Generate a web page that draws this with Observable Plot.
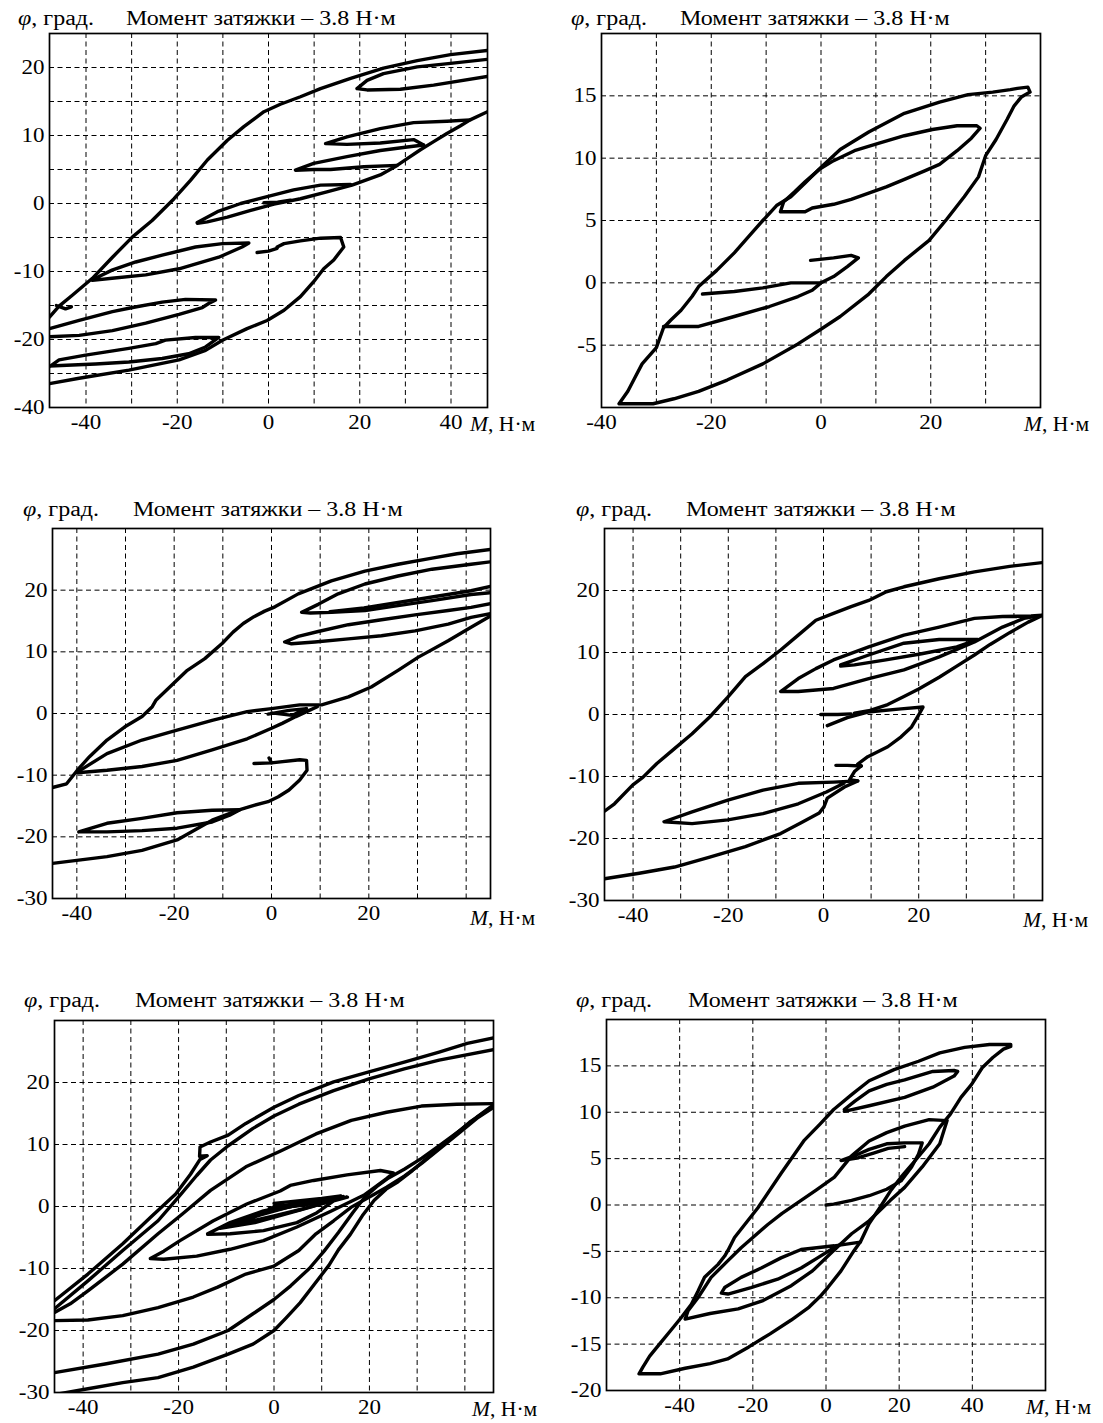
<!DOCTYPE html>
<html><head><meta charset="utf-8">
<script src="https://cdn.jsdelivr.net/npm/d3@7"></script>
<script src="https://cdn.jsdelivr.net/npm/@observablehq/plot@0.6"></script>
<style>
body{margin:0;background:#fff;}
#root{position:relative;width:1103px;height:1423px;background:#fff;font-family:"Liberation Serif","Times New Roman",serif;color:#000;overflow:hidden;}
.lbl{position:absolute;white-space:nowrap;transform-origin:0 0;line-height:1;}
.plot{position:absolute;}
</style></head><body><div id="root"></div><script>
// ---------- Panel 1 ----------
const p1Outer=[[-48,-16.7],[-45.9,-15.1],[-43,-13.5],[-38.6,-11.0],[-34.2,-7.9],[-29.8,-4.9],[-25.5,-2.5],[-20.7,0.7],[-17.1,3.4],[-13.4,6.4],[-9.0,9.3],[-5.4,11.3],[-1.0,13.5],[2.6,14.6],[7.0,15.7],[11.4,16.9],[18.0,18.4],[25.2,19.9],[32.6,21.0],[39.9,21.9],[48,22.5]];
const p1TopLoop=[[48,21.2],[39.9,20.6],[32.6,20.1],[25.2,19.1],[21.6,18.1],[19.4,16.9],[21.6,16.7],[28.9,16.8],[36.2,17.4],[48,18.7]];
const p1Rise=[[-15.6,-2.9],[-13.4,-2.7],[-9.0,-2.0],[-3.9,-1.0],[1.2,-0.1],[7.0,0.7],[12.8,1.7],[18.3,2.7],[24.5,4.2],[28.2,5.6],[30.4,6.6],[33.3,7.9],[36.2,9.1],[39.1,10.3],[42.0,11.4],[44.2,12.3],[48,13.5]];
const p1LoopUpper=[[44.2,12.3],[39.1,12.1],[31.8,11.9],[24.5,11.0],[17.2,9.8],[12.5,8.8],[17.2,8.7],[24.5,8.9],[31.8,9.4],[34.0,8.6]];
const p1LoopMid=[[34.0,8.6],[30.4,8.3],[24.5,7.8],[17.2,6.9],[9.9,5.9],[5.9,4.9],[9.9,5.0],[13.6,5.0],[20.9,5.4],[28.2,5.6]];
const p1ZeroUpper=[[-15.6,-2.8],[-11.2,-1.2],[-6.1,0],[-0.3,1.0],[5.5,2.0],[11.4,2.7],[18.0,2.8]];
const p1ZeroStub=[[-1.0,0.1],[2.0,0.2],[4.8,0.5]];
const p1LoopM7=[[-38.6,-11.2],[-34.3,-9.8],[-29.1,-8.6],[-23.3,-7.6],[-16.0,-6.4],[-10.1,-5.9],[-4.3,-5.8],[-5.8,-6.4],[-10.9,-7.9],[-19.6,-9.6],[-26.9,-10.5],[-34.3,-11.0],[-38.6,-11.3]];
const p1Loop15=[[-48,-18.4],[-41.5,-17.2],[-34.2,-15.9],[-29.8,-15.3],[-23.3,-14.5],[-18.2,-14.1],[-11.6,-14.2],[-13.1,-14.7],[-14.5,-15.3],[-19.6,-16.3],[-26.9,-17.6],[-34.2,-18.7],[-41.5,-19.4],[-48,-19.6]];
const p1Loop22=[[-48,-24.0],[-45.9,-23.0],[-40.1,-22.3],[-30.6,-21.3],[-24.7,-20.6],[-22.6,-20.1],[-16.0,-19.7],[-10.9,-19.7],[-13.8,-21.1],[-17.5,-22.1],[-23.3,-22.8],[-30.6,-23.3],[-37.9,-23.6],[-48,-23.9]];
const p1Bottom=[[-48,-26.5],[-41.5,-25.7],[-30.6,-24.5],[-19.6,-23.0],[-13.8,-21.6],[-10.1,-20.1],[-4.7,-18.4],[-0.3,-17.2],[3.4,-15.7],[7.0,-13.7],[9.9,-11.5],[12.1,-9.6],[14.3,-8.3],[16.5,-6.4],[15.8,-5.0],[11.4,-5.1],[7.0,-5.5],[3.4,-5.9],[1.9,-6.4]];
const p1Stub7=[[-2.5,-7.2],[0,-7.0],[1.9,-6.6]];
const p1Jag15=[[-46.5,-15.0],[-44.5,-15.5],[-43.2,-15.2]];
// ---------- Panel 2 ----------
const p2Outer=[[-36.8,-9.7],[-30.6,-9.7],[-26.8,-9.3],[-22.3,-8.7],[-17.1,-7.8],[-10.6,-6.5],[-4.2,-4.9],[-0.3,-3.8],[3.5,-2.7],[8.7,-0.9],[11.9,0.5],[15.2,1.8],[19.7,3.4],[22.9,5.1],[26.1,6.9],[28.7,8.5],[30.0,10.2],[31.9,11.5],[33.9,13.1],[35.2,14.2],[36.5,14.9],[38.1,15.3],[37.7,15.7],[35.8,15.6],[34.5,15.5],[31.3,15.3],[26.8,15.1],[21.6,14.5],[15.2,13.6],[8.7,12.1],[3.5,10.7],[0.3,9.4],[-2.9,8.0],[-5.5,6.9],[-8.1,6.2],[-10.6,5.0],[-13.2,3.7],[-15.8,2.4],[-19.0,1.0],[-22.3,-0.3],[-23.5,-1.1],[-25.5,-2.2],[-27.4,-3.0],[-28.7,-3.6],[-30.0,-5.2],[-32.6,-6.5],[-33.9,-7.6],[-35.2,-8.7],[-36.8,-9.7]];
const p2InnerUpper=[[-7.4,5.7],[-2.9,5.7],[-1.6,6.0],[2.3,6.3],[5.5,6.7],[8.7,7.2],[11.9,7.7],[15.2,8.3],[19.0,9.0],[21.6,9.5],[24.8,10.6],[27.4,11.6],[29.0,12.4],[28.4,12.6],[24.8,12.6],[20.3,12.3],[15.2,11.8],[10.6,11.2],[6.1,10.6],[2.3,9.8],[-0.3,9.1],[-2.9,8.1],[-4.8,7.3],[-6.8,6.5],[-7.4,5.7]];
const p2InnerLower=[[-28.7,-3.5],[-22.3,-3.5],[-15.8,-2.7],[-9.4,-1.9],[-4.2,-1.1],[-1.6,-0.6],[0,0],[2.3,0.5],[4.8,1.3],[6.8,2.0],[5.5,2.2],[2.3,2.0],[-1.9,1.8]];
const p2InnerLower2=[[-21.6,-0.9],[-15.8,-0.7],[-10.6,-0.4],[-5.5,0],[0,0]];
// ---------- Panel 3 ----------
const p3Main=[[-45,-12.0],[-42.1,-11.4],[-41.0,-10.3],[-39.9,-9.2],[-37.4,-7.0],[-33.8,-4.3],[-30.2,-2.2],[-26.6,-0.5],[-24.5,1.1],[-23.7,2.2],[-20.9,4.3],[-17.3,7.0],[-13.7,8.9],[-10.1,11.4],[-7.9,13.2],[-5.8,14.6],[-3.6,15.7],[-1.4,16.6],[0.7,17.3],[5.5,19.4],[12.3,21.5],[19.2,23.1],[26,24.2],[33,25.2],[38.1,25.9],[45,26.6]];
const p3Tip=[[45,24.6],[41,24.2],[33,23.4],[26,22.3],[19.2,21.0],[13.7,19.4],[9.6,17.7],[6.2,16.4],[8,16.3],[12.3,16.4],[19.2,16.7],[26,17.5],[33,18.3],[41,19.3],[45,19.6]];
const p3TipB=[[45,20.6],[41,19.9],[33,18.9],[26,18.0],[19,17.1],[12,16.5]];
const p3Lower=[[45,17.8],[41,17.2],[36.3,16.7],[29.5,16.0],[22.6,15.2],[15.8,14.4],[9.6,13.3],[5.5,12.5],[2.7,11.6],[4.1,11.3],[8.9,11.6],[15.8,12.1],[22.6,12.6],[29.5,13.4],[36.3,14.5],[41,15.6],[45,16.2]];
const p3Return=[[45,15.8],[41,14.0],[36.3,11.8],[30.1,9.1],[26,7.0],[20.5,4.3],[15.8,2.7],[10.3,1.4],[5.8,1.4],[0,0.8],[-5,0.3],[-12.2,-1.1],[-19.4,-2.7],[-26.6,-4.3],[-33.8,-6.5],[-39.9,-9.5]];
const p3CenterLower=[[-39.9,-9.6],[-33.8,-9.2],[-26.6,-8.6],[-19.4,-7.6],[-12.2,-5.9],[-5,-4.1],[0,-2.4],[2.2,-1.6],[5,-0.5],[7.2,0.3],[9.4,1.1]];
const p3Squiggle=[[-0.7,-0.1],[3.6,0.5],[7.2,0.8],[4.3,-0.3],[0,0.1]];
const p3Hook=[[-3.6,-8.1],[0,-8.0],[5.8,-7.5],[7.2,-7.6],[7.3,-9.2],[5.8,-10.8],[3.6,-12.4],[1.4,-13.5],[-0.7,-14.3],[-3.6,-14.9],[-6.5,-15.6],[-12.2,-17.3],[-19.4,-20.5],[-26.6,-22.2],[-33.8,-23.2],[-45,-24.3]];
const p3Tick=[[-0.5,-7.2],[0,-8.0]];
const p3Loop17=[[-39.6,-19.2],[-33.8,-17.8],[-26.6,-17.0],[-19.4,-16.1],[-12.2,-15.7],[-6.5,-15.6],[-8.6,-16.5],[-12.2,-17.6],[-19.4,-18.6],[-26.6,-19.0],[-33.8,-19.2],[-39.6,-19.2]];
// ---------- Panel 4 ----------
const p4Main=[[-46,-15.6],[-43.9,-14.4],[-40.1,-11.4],[-37.9,-10.1],[-35,-7.9],[-31.3,-5.5],[-27.6,-3.1],[-23.9,-0.4],[-20.1,2.8],[-16.4,6.1],[-12.7,8.2],[-9.0,10.4],[-5.3,12.8],[-1.6,15.2],[2.1,16.3],[5.8,17.4],[9.5,18.4],[13.2,19.8],[16.9,20.6],[24.3,21.9],[31.7,23.0],[39.1,23.9],[46,24.5]];
const p4UpperLoop=[[46,16.0],[43.6,15.9],[37.6,15.8],[31.7,15.5],[24.3,14.1],[16.9,12.8],[9.5,10.9],[2.1,8.8],[-1.6,7.4],[-5.3,5.8],[-9,3.7],[-5.3,3.7],[2.1,4.2],[9.5,5.8],[16.9,7.2],[24.3,9.3],[31.7,11.7],[37.6,14.1],[42.1,15.5],[46,16.0]];
const p4Return=[[46,16.0],[43,14.9],[39.1,13.2],[35,11.3],[31.7,9.6],[28,7.8],[24.3,6.0],[20,4.1],[16.9,2.9],[13.5,1.6],[9.5,0.6],[6.5,0.2]];
const p4Inner=[[3.6,8.0],[9.5,9.6],[16.9,11.5],[24.3,12.1],[32.4,12.1],[28,10.9],[20.6,9.8],[13.1,8.8],[6.5,8.0],[3.6,7.8]];
const p4ZeroStub=[[-0.6,0],[3,0],[5.8,0.1]];
const p4Hook=[[0.8,-1.8],[5,-0.5],[9.3,0.4],[16.3,0.9],[20.9,1.2],[19.9,-0.2],[18.5,-2.0],[16.3,-3.6],[13.5,-5.2],[9.3,-6.8],[7.2,-8.0],[7.9,-8.3]];
const p4HookStub=[[2.6,-8.2],[5,-8.2],[7.9,-8.3]];
const p4Hook2=[[7.9,-8.3],[6.5,-9.2],[5.8,-10.1],[5.5,-10.5],[7.2,-10.7],[4.4,-11.7],[0.8,-13.5],[0.1,-14.9],[-0.9,-15.9],[-4.8,-17.5],[-9.0,-19.2],[-16.4,-21.3],[-23.9,-23.0],[-31.3,-24.6],[-38.7,-25.6],[-46,-26.5]];
const p4Lower=[[7.2,-10.7],[2.1,-10.9],[-5.3,-11.1],[-12.7,-12.2],[-20.1,-13.8],[-27.6,-15.7],[-33.5,-17.3],[-27.6,-17.6],[-20.1,-17.0],[-12.7,-16.0],[-5.3,-14.4],[0.6,-12.5],[4.3,-11.1]];
// ---------- Panel 5 ----------
const p5L1=[[-46,-15.2],[-39,-10.9],[-31.7,-6.0],[-25.8,-1.7],[-20.6,2.0],[-17.5,5.2],[-15.5,7.6],[-14.0,8.2],[-15.6,8.1],[-15.5,9.6],[-13.3,10.4],[-9.6,11.5],[-5.9,13.4],[0,16.0],[5.2,17.9],[12.5,20.1],[19.9,21.7],[27.3,23.3],[34.6,24.9],[40.5,26.3],[46,27.2]];
const p5L2=[[-46,-16.5],[-39,-12.0],[-31.7,-7.1],[-24.3,-2.3],[-20.6,1.0],[-16.2,5.0],[-13.3,7.5],[-9.6,9.8],[-4.4,12.6],[0,14.6],[5.2,16.5],[12.5,18.7],[19.9,20.6],[27.3,22.2],[34.6,23.6],[46,25.3]];
const p5L3=[[-46,-18.4],[-39,-18.3],[-31.7,-17.6],[-24.3,-16.3],[-16.9,-14.6],[-11.8,-13.0],[-5.9,-10.9],[0,-9.6],[5.2,-7.1],[8.8,-4.4],[12.5,-2.3],[16.2,-0.1],[19.9,1.5],[23.6,3.1],[27.3,4.9],[31,7.0],[35,9.5],[39,12.0],[42.5,14.2],[46,16.0]];
const p5L4=[[46,16.6],[38.3,16.5],[30.9,16.2],[23.6,15.2],[16.2,13.9],[8.8,11.7],[1.5,9.0],[-5.9,6.4],[-13.3,2.6],[-19.2,-1.2],[-24.3,-4.4],[-31.7,-9.3],[-39,-13.6],[-42.7,-15.7],[-46,-17.1]];
const p5L5=[[-46,-26.8],[-35.4,-25.4],[-24.3,-23.8],[-16.9,-22.2],[-9.6,-20.0],[-4.4,-17.3],[0,-15.0],[3.5,-12.8],[7.4,-10.0],[10.5,-7.2],[13.5,-4.2],[16.5,-1.0],[19.0,1.5],[21.5,3.2],[24,4.6],[27.3,6.0],[31,7.8],[35,10.0],[39,12.3],[42.5,14.4],[46,16.4]];
const p5L6=[[-45.7,-30.3],[-39,-29.4],[-31.7,-28.4],[-24.3,-27.6],[-16.9,-25.9],[-9.6,-23.8],[-4.4,-22.2],[0,-20.0],[2.5,-18.0],[5.5,-15.5],[8.5,-12.5],[11.5,-9.5],[13.5,-7.0],[16,-4.5],[18.5,-1.5],[21,1.0],[23.5,2.8],[26,4.0],[29,5.8],[33,8.4],[37,11.0],[41,13.6],[46,16.2]];
const p5LoopA=[[-25.9,-8.4],[-23.1,-7.2],[-19.7,-5.5],[-12.7,-2.3],[-5.7,0.4],[1.3,2.5],[3.4,3.4],[8.3,4.2],[15.3,5.1],[22.3,5.8],[25,5.4],[23.6,4.5],[18.8,1.8],[11.8,-0.8],[4.8,-3.3],[-2.2,-5.5],[-9.2,-6.9],[-16.2,-8.0],[-23.1,-8.5],[-25.9,-8.4]];
const p5LoopB=[[-13.9,-4.4],[-9.2,-2.6],[-2.2,-0.7],[4.8,0.4],[11.8,1.2],[15.4,1.5],[12.5,0.9],[9,-1.0],[4.8,-2.6],[-2.2,-3.9],[-9.2,-4.4],[-13.9,-4.5]];
const p5LoopC=[[-11.3,-3.5],[-6,-2.0],[0,-0.6],[6,0.4],[13.6,1.3],[8,0.0],[2,-1.3],[-4,-2.6],[-11.3,-3.5]];
const p5LoopD=[[-9,-2.9],[-3,-1.4],[3,-0.1],[9,0.8],[12.5,1.0],[6,-0.4],[0,-1.5],[-6,-2.6],[-9,-2.9]];
const p5LoopE=[[-1,-0.3],[4,0.4],[9,0.9],[14.5,1.6],[10,0.7],[5,0.1],[0,-0.2]];
const p5LoopF=[[0,0.5],[5,0.9],[10,1.3],[14,1.7],[9,0.6],[4,0.2],[0,0.0]];
// ---------- Panel 6 ----------
const p6Outer=[[-51.1,-18.2],[-45.3,-18.2],[-38.5,-17.6],[-31.7,-17.1],[-26.9,-16.6],[-21.1,-15.3],[-15.3,-13.9],[-9.5,-12.4],[-4.6,-11.0],[-1.7,-9.9],[0.5,-8.9],[4.1,-7.1],[7.7,-4.9],[9.5,-3.9],[11.8,-2.0],[14.7,-0.3],[17.6,1.5],[20.5,3.0],[24.4,4.8],[28.2,6.6],[31.1,8.4],[34.0,9.8],[36.9,11.6],[39.8,13.0],[42.7,14.8],[45.6,15.9],[48.5,16.8],[50.5,17.1],[50.5,17.3],[44.7,17.3],[37.9,17.0],[31.1,16.4],[25.3,15.5],[18.6,14.6],[11.8,13.4],[7.0,11.9],[2.1,10.3],[-1.7,8.7],[-5.9,7.0],[-12.3,3.4],[-18.6,-0.3],[-25,-3.5],[-26.8,-4.9],[-27.7,-5.5],[-29.5,-6.4],[-33.2,-7.8],[-35,-9.3],[-36.8,-10.7],[-39.5,-12.1],[-42.4,-13.5],[-45.3,-14.9],[-48.2,-16.3],[-50.1,-17.5],[-51.1,-18.2]];
const p6Loop2=[[-38.5,-12.3],[-31.7,-11.7],[-24.0,-11.2],[-17.2,-10.3],[-9.5,-8.7],[-3.7,-7.1],[2.1,-4.9],[7.0,-3.1],[11.8,-1.7],[17.6,0.5],[21.5,1.9],[26.3,4.1],[31.1,6.6],[33.1,9.1],[28.2,9.2],[21.5,8.5],[16.6,7.8],[11.8,6.9],[7.0,5.3],[2.3,3.0],[-2.7,1.6],[-6.8,0.5],[-12,-0.9],[-15.9,-2.1],[-23.2,-4.6],[-26.8,-6.0],[-31.4,-7.8],[-35,-10.0],[-37.7,-11.4],[-38.5,-12.3]];
const p6SmallLow=[[9.4,-4.0],[2.3,-4.4],[-6.8,-4.8],[-12.3,-5.7],[-17.7,-6.8],[-23.2,-7.8],[-27.7,-8.9],[-28.6,-9.5],[-26.8,-9.6],[-20.5,-8.9],[-13.2,-8.0],[-6.8,-6.8],[-2.3,-5.7],[1.4,-4.8],[4.1,-4.2]];
const p6Loop5=[[0,0],[2.1,0.1],[7,0.5],[11.8,1.0],[16.6,1.7],[20.5,2.6],[23.4,4.1],[25.3,5.5],[26.3,6.7],[21.5,6.7],[16.6,6.6],[11.8,6.0],[8.9,5.5],[4.1,4.8],[8.9,5.1],[13,5.6],[17,6.1],[21.5,6.3]];
const p6Loop12=[[5.0,10.1],[11.8,10.7],[21.5,11.6],[29.2,12.7],[35.0,13.9],[36,14.4],[35.0,14.5],[29.2,14.4],[21.5,13.5],[16.6,13.0],[11.8,12.3],[7.9,11.2],[5.0,10.3]];

// ---------- ticks & labels ----------
const titleText="Момент затяжки – 3.8 Н·м";
const yLabelText="φ, град.";
const p1XTicks=[-40,-20,0,20,40], p1YTicks=[-30,-20,-10,0,10,20], p1YTickLabels=["-40","-20","-10","0","10","20"];
const p2XTicks=[-40,-20,0,20], p2YTicks=[-5,0,5,10,15];
const p3XTicks=[-40,-20,0,20], p3YTicks=[-30,-20,-10,0,10,20];
const p6XTicks=[-40,-20,0,20,40], p6YTicks=[-20,-15,-10,-5,0,5,10,15];
const step=(a,b,s)=>{const r=[];for(let v=a;v<=b+1e-9;v+=s)r.push(v);return r;};

const panels=[
 {curves:{p1Outer,p1TopLoop,p1Rise,p1LoopUpper,p1LoopMid,p1ZeroUpper,p1ZeroStub,p1LoopM7,p1Loop15,p1Loop22,p1Bottom,p1Stub7,p1Jag15},
  frame:[49,33,487,407],x:[-48,48],y:[-30,25],xg:step(-40,40,10),yg:step(-25,20,5),xt:p1XTicks,yt:p1YTicks,ytl:p1YTickLabels,
  phiX:18,titleX:126,titleY:8,mX:470,mY:414},
 {curves:{p2Outer,p2InnerUpper,p2InnerLower,p2InnerLower2},
  frame:[601,33,1040,407],x:[-40,40],y:[-10,20],xg:step(-30,30,10),yg:step(-5,15,5),xt:p2XTicks,yt:p2YTicks,
  phiX:571,titleX:680,titleY:8,mX:1024,mY:414},
 {curves:{p3Main,p3Tip,p3TipB,p3Lower,p3Return,p3CenterLower,p3Squiggle,p3Hook,p3Tick,p3Loop17},
  frame:[52,528,490,898],x:[-45,45],y:[-30,30],xg:step(-40,40,10),yg:step(-20,20,10),xt:p3XTicks,yt:p3YTicks,
  phiX:23,titleX:133,titleY:499,mX:470,mY:908},
 {curves:{p4Main,p4UpperLoop,p4Return,p4Inner,p4ZeroStub,p4Hook,p4HookStub,p4Hook2,p4Lower},
  frame:[604,528,1042,900],x:[-46,46],y:[-30,30],xg:step(-40,40,10),yg:step(-20,20,10),xt:p3XTicks,yt:p3YTicks,
  phiX:576,titleX:686,titleY:499,mX:1023,mY:910},
 {curves:{p5L1,p5L2,p5L3,p5L4,p5L5,p5L6,p5LoopA,p5LoopB,p5LoopC,p5LoopD,p5LoopE,p5LoopF},
  frame:[54,1020,493,1392],x:[-46,46],y:[-30,30],xg:step(-40,40,10),yg:step(-20,20,10),xt:p3XTicks,yt:p3YTicks,
  phiX:24,titleX:135,titleY:990,mX:472,mY:1399},
 {curves:{p6Outer,p6Loop2,p6SmallLow,p6Loop5,p6Loop12},
  frame:[606,1019,1045,1390],x:[-60,60],y:[-20,20],xg:step(-40,40,20),yg:step(-15,15,5),xt:p6XTicks,yt:p6YTicks,
  phiX:576,titleX:688,titleY:990,mX:1026,mY:1397}
];

const root=document.getElementById("root");
const mL=55,mR=15,mT=6,mB=40;
const TXT_STRETCH=1.15;
function stretch(svg,s){
  svg.querySelectorAll("text").forEach(t=>{
    const x=+t.getAttribute("x")||0, y=+t.getAttribute("y")||0;
    const tr=t.getAttribute("transform")||"";
    t.setAttribute("transform",`${tr} translate(${x},${y}) scale(${s},1) translate(${-x},${-y})`);
  });
}
function addLabel(html,left,top,size,sx){
  const d=document.createElement("div");
  d.className="lbl";d.innerHTML=html;
  d.style.left=left+"px";d.style.top=top+"px";d.style.fontSize=size+"px";
  d.style.transform=`scaleX(${sx})`;
  root.appendChild(d);
}
panels.forEach(p=>{
  const [L,T,R,B]=p.frame;
  const rows=Object.entries(p.curves).flatMap(([k,pts])=>pts.map(([M,phi])=>({M,phi,curve:k})));
  const lab=p.ytl?new Map(p.yt.map((v,i)=>[v,p.ytl[i]])):null;
  const svg=Plot.plot({
    width:(R-L)+mL+mR,height:(B-T)+mT+mB,
    marginLeft:mL,marginRight:mR,marginTop:mT,marginBottom:mB,
    style:{fontFamily:'"Liberation Serif","Times New Roman",serif',fontSize:"20px",color:"#000",background:"transparent",overflow:"visible"},
    x:{domain:p.x,ticks:p.xt,tickFormat:d=>String(d),tickSize:0,tickPadding:7,label:null},
    y:{domain:p.y,ticks:p.yt,tickFormat:d=>lab?lab.get(d):String(d),tickSize:0,tickPadding:5,label:null},
    marks:[
      Plot.ruleX(p.xg,{stroke:"#000",strokeWidth:1,strokeDasharray:"5,3.5"}),
      Plot.ruleY(p.yg,{stroke:"#000",strokeWidth:1,strokeDasharray:"5,3.5"}),
      Plot.line(rows,{x:"M",y:"phi",z:"curve",stroke:"#000",strokeWidth:3.4,strokeLinejoin:"round",strokeLinecap:"round",clip:true}),
      Plot.frame({stroke:"#000",strokeWidth:1.7})
    ]
  });
  stretch(svg,TXT_STRETCH);
  const wrap=document.createElement("div");
  wrap.className="plot";wrap.style.left=(L-mL)+"px";wrap.style.top=(T-mT)+"px";
  wrap.appendChild(svg);root.appendChild(wrap);
  addLabel(`<i>φ</i>, град.`,p.phiX,p.titleY,20,1.2);
  addLabel(titleText,p.titleX,p.titleY,20,1.2);
  addLabel(`<i>M</i>, Н·м`,p.mX,p.mY,20,1.08);
});
</script></body></html>
